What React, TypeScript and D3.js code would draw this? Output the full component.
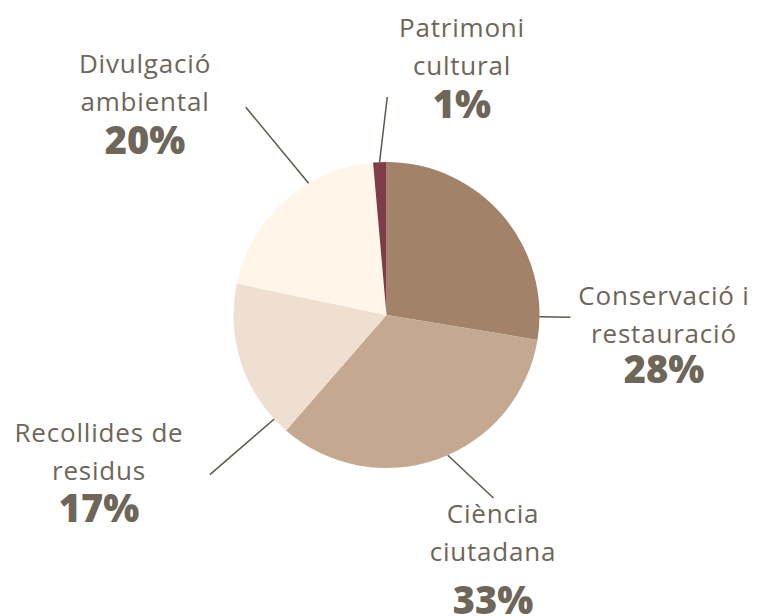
import React, { useEffect, useRef } from 'react';
import * as d3 from 'd3';

// slices, clockwise from 12 o'clock
const categories = [
    ['Conservació i', 'restauració'],
    ['Ciència', 'ciutadana'],
    ['Recollides de', 'residus'],
    ['Divulgació', 'ambiental'],
    ['Patrimoni', 'cultural'],
];
const values = [27.6, 33.8, 16.9, 20.3, 1.4];
const pctLabels = ['28%', '33%', '17%', '20%', '1%'];
const colors = ['#a3826a', '#c5a890', '#efdfd1', '#fff6e9', '#7e3d46'];

// label layout: centre x, first baseline, baseline of the percent
const labelPos = [
    { x: 664, y: 305, py: 383 },
    { x: 493, y: 523, py: 614 },
    { x: 99, y: 442, py: 522 },
    { x: 145, y: 73, py: 154 },
    { x: 462, y: 37, py: 118 },
];
// connector: angle on the rim, angle at outer end, outer radius
const connectors = [
    [90.7, 90.7, 184],
    [156.4, 149.7, 212],
    [227.2, 227.9, 238],
    [329.4, 325.9, 251],
    [357.4, 0.2, 218],
];

const App: React.FC = () => {
    const ref = useRef<SVGSVGElement | null>(null);

    useEffect(() => {
        if (!ref.current) return;
        const width = 761;
        const height = 616;
        const cx = 386.5;
        const cy = 315;
        const radius = 153;

        d3.select(ref.current).selectAll('*').remove();
        const svg = d3.select(ref.current)
            .attr('width', width)
            .attr('height', height);

        const pie = d3.pie<number>().sort(null).value(d => d);
        const arc = d3.arc<d3.PieArcDatum<number>>().innerRadius(0).outerRadius(radius);

        const g = svg.append('g').attr('transform', `translate(${cx},${cy})`);

        g.selectAll('path.slice')
            .data(pie(values))
            .enter()
            .append('path')
            .attr('class', 'slice')
            .attr('d', arc)
            .attr('fill', (d, i) => colors[i]);

        const rad = (deg: number) => (deg * Math.PI) / 180;
        g.selectAll('line.conn')
            .data(connectors)
            .enter()
            .append('line')
            .attr('class', 'conn')
            .attr('x1', d => d3.pointRadial(rad(d[0]), radius)[0])
            .attr('y1', d => d3.pointRadial(rad(d[0]), radius)[1])
            .attr('x2', d => d3.pointRadial(rad(d[1]), d[2])[0])
            .attr('y2', d => d3.pointRadial(rad(d[1]), d[2])[1])
            .attr('stroke', '#5f574b')
            .attr('stroke-width', 1.5);

        const labels = svg.selectAll('g.label')
            .data(categories)
            .enter()
            .append('g')
            .attr('class', 'label');

        labels.each(function (lines, i) {
            const lg = d3.select(this);
            const p = labelPos[i];
            lines.forEach((ln, j) => {
                lg.append('text')
                    .attr('x', p.x)
                    .attr('y', p.y + j * 37.5)
                    .attr('text-anchor', 'middle')
                    .style('font-family', '"Open Sans", sans-serif')
                    .style('font-size', '26px')
                    .style('letter-spacing', '0.8px')
                    .style('fill', '#6e6658')
                    .text(ln);
            });
            lg.append('text')
                .attr('x', p.x)
                .attr('y', p.py)
                .attr('text-anchor', 'middle')
                .style('font-family', '"Open Sans", sans-serif')
                .style('font-size', '38px')
                .style('font-weight', 800)
                .style('fill', '#6e6658')
                .text(pctLabels[i]);
        });
    }, []);

    return <svg ref={ref} style={{ position: 'absolute', left: 0, top: 0, background: '#fff' }} />;
};

export default App;
